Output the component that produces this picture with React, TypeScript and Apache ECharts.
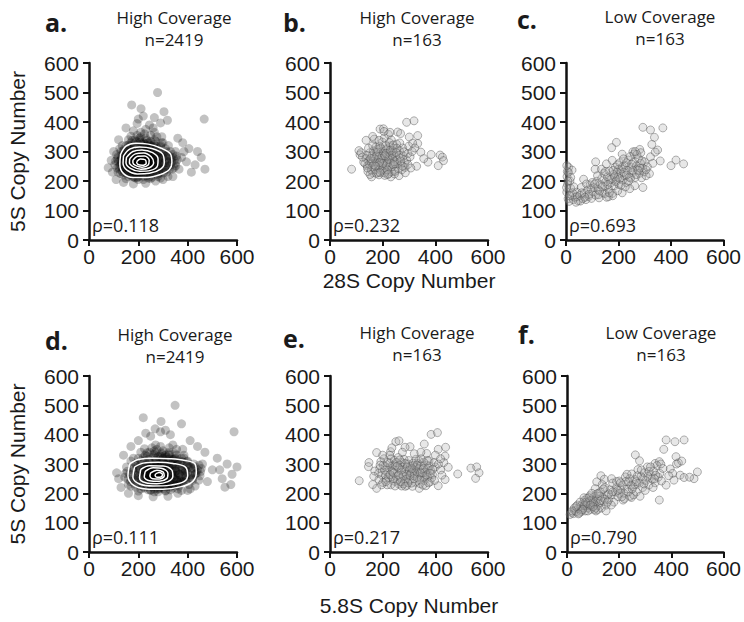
import React, { useEffect, useRef } from "react";
import * as echarts from "echarts";

// ---------- text data ----------
const panelLetters = ["a.", "b.", "c.", "d.", "e.", "f."];
const coverageTitles = ["High Coverage", "High Coverage", "Low Coverage", "High Coverage", "High Coverage", "Low Coverage"];
const sampleCounts = ["n=2419", "n=163", "n=163", "n=2419", "n=163", "n=163"];
const rhoLabels = ["ρ=0.118", "ρ=0.232", "ρ=0.693", "ρ=0.111", "ρ=0.217", "ρ=0.790"];
const yAxisTitle = "5S Copy Number";
const xAxisTitles = ["28S Copy Number", "5.8S Copy Number"];
const axisMin = 0;
const axisMax = 600;
const xTickStep = 200;
const yTickStep = 100;

// ---------- series values: [x, y] ----------
const panelA: number[][] = [
  [278,500],[173,458],[211,445],[304,435],[220,420],[467,410],[318,406],[290,397],[78,245],[470,240],[455,280],[440,300],[430,255],[415,230],[395,265],[405,310],[380,330],[360,345],[245,390],[195,395],[260,380],[230,375],[150,380],[180,370],[120,340],[100,300],[90,270],[95,230],[110,205],[140,195],[180,190],[230,192],[270,200],[300,205],[340,215],[365,240],[375,280],[385,300],[350,300],[200,410],[265,415],
  [215,262],[198,255],[232,270],[180,248],[250,280],[165,265],[240,240],[205,290],[225,230],[190,275],[260,258],[175,285],[210,245],[245,300],[155,250],[270,275],[185,232],[230,310],[200,268],[220,282],[168,240],[255,235],[140,262],[285,265],[195,300],[235,255],[178,270],[212,228],[262,295],[150,282],[208,312],[242,265],[188,258],[225,248],[172,300],[275,245],[160,230],[218,272],[198,238],[252,318],[135,245],[290,285],[182,315],[238,225],[205,255],[228,295],[165,288],[268,230],[145,270],[215,325],[192,222],[258,270],[178,242],[248,252],[130,285],[300,260],[222,305],[185,290],[235,282],[170,258],[280,300],[210,235],[195,285],[265,250],[155,300],[240,330],[200,215],[225,265],[160,275],[290,240],[128,255],[218,250],[250,290],[175,225],[208,275],[232,240],[188,305],[272,262],[145,235],[205,338],[262,315],[180,262],[238,292],[152,258],[300,280],[220,218],[196,248],[245,270],[170,312],[284,225],[138,300],[228,255],[190,230],[258,300],[120,265],[212,298],[242,245],[182,280],[268,285],[162,245],[232,318],[204,260],[248,228],[148,290],[310,270],[216,240],[176,295],[255,262],[198,325],[236,272],[166,222],[278,310],[142,250],[222,288],[192,265],[262,238],[132,275],[320,250],[210,350],[250,335],[186,340],[170,330],[290,320],[305,295],[315,230],[325,285],[335,265],[345,245],[118,230],[112,290],[125,310],[150,320],[270,335],[230,345],[160,215],[140,220],[200,205],[255,212],[280,215],[300,240],[310,310],[330,300],[340,280],[350,260],[125,240],[135,320],[275,350],[195,355],[225,360],[160,340],[250,355],[300,330],[355,285],[105,255],[115,275],[128,225],[320,215],[290,210],[240,210],[185,212],[150,208],[170,352],[210,365],[265,365],[295,350],[285,245],[270,295],[245,310],[200,232],[215,280],[235,262],[180,255],[225,275],[205,270],[190,245],[250,265],[220,258],[195,278],[240,285],[210,252],[230,248],[185,268],[260,275],[200,295],[175,250],[245,255],[215,300],[230,235],[165,258],[280,270],[205,242],[235,300],[190,290],[220,238],[255,248],[170,275],[225,325],[210,265],[240,268],[195,262],[205,280],[218,266],[230,260],[200,250],[212,258],[224,270],[190,256]
];
const panelAExtra: number[][] = [
  [122,248],[134,232],[146,296],[158,312],[171,218],[183,326],[196,212],[209,332],[221,214],[236,328],[249,216],[263,324],[276,222],[289,316],[302,228],[314,300],[326,240],[333,276],[318,262],[306,284],[296,252],[283,236],[271,318],[259,228],[246,322],[234,218],[221,330],[207,222],[194,318],[182,226],[169,306],[157,238],[144,248],[136,290],[128,270],[142,306],[153,226],[166,320],[179,214],[192,334],[204,226],[217,316],[229,226],[242,318],[254,238],[268,308],[281,250],[294,296],[307,262],[319,288],[331,254],[287,278],[274,292],[261,246],[248,302],[236,236],[223,298],[211,308],[198,222],[186,300],[173,234],[161,296],[149,244],[139,280],[152,270],[164,252],[176,278],[189,242],[201,282],[213,244],[226,290],[238,258],[251,276],[263,266],[276,284],[288,258],[300,290],[312,244],[324,268],[118,282],[130,300],[145,228],[160,322],[175,338],[190,210],[205,345],[220,205],[235,338],[250,208],[265,340],[280,228],[295,330],[310,238],[322,320],[340,290],[345,270],[338,240],[132,262],[148,274],[165,284],[182,264],[198,274],[214,288],[232,280],[248,244],[264,284],[280,262],[108,268],[114,244],[352,252],[358,272]
];

const panelB: number[][] = [
  [82,240],[291,399],[319,404],[190,376],[203,377],[257,366],[268,361],[222,358],[333,354],[137,338],[301,349],[333,327],[110,303],[114,289],[384,290],[418,288],[427,281],[431,269],[411,252],[372,264],[329,250],
  [163,228],[187,243],[142,251],[206,268],[231,214],[176,297],[154,263],[219,286],[248,239],[193,311],[137,276],[264,302],[181,257],[212,233],[229,319],[158,214],[271,257],[201,293],[144,232],[239,276],[186,221],[253,325],[168,281],[224,247],[196,262],[279,284],[151,296],[213,305],[234,231],[172,239],[262,218],[189,284],[147,268],[243,294],[208,219],[276,312],[161,249],[227,271],[199,332],[182,229],[256,259],[139,287],[218,262],[174,315],[291,271],[236,248],[165,302],[204,241],[249,282],[157,237],[285,246],[193,270],[226,295],[178,264],[245,224],[211,281],[133,259],[267,279],[188,318],[232,261],[152,222],[219,309],[199,251],[296,293],[171,274],[241,311],[183,298],[259,242],[207,227],[146,311],[228,284],[265,329],[194,236],[215,256],[238,302],[163,267],[283,262],[203,300],[176,226],[254,273],[223,225],[168,342],[198,285],[247,258],[142,244],[273,238],[211,319],[185,252],[233,339],[159,285],[299,318],[221,274],[190,229],[262,288],[149,257],[206,346],[244,266],[180,307],[281,299],[128,264],[217,238],[254,311],[195,277],[235,287],[166,255],[304,282],[213,293],[240,255],[177,285],[286,228],[200,259],[226,330],[155,276],[268,268],[188,263],[312,300],[247,233],[162,320],[229,304],[276,250],[209,286],[123,281],[251,296],[186,338],[296,256],[219,222],[173,250],[240,322],[314,328],[322,312],[345,298],[162,351],[228,365],[118,296],[356,276],[205,368],[307,244]
];

const panelC: number[][] = [
  [293,382],[322,373],[369,380],[337,348],[327,324],[349,305],[192,331],[174,313],[281,307],[255,299],[322,282],[299,265],[359,268],[419,271],[400,252],[448,258],[331,260],[214,291],[113,265],[111,240],[67,206],[293,178],[214,160],[162,147],[10,246],[23,237],
  [4,215],[6,188],[3,162],[8,140],[12,131],[5,232],[15,200],[18,175],[22,152],[28,137],[35,145],[41,162],[47,133],[53,151],[58,178],[64,140],[70,158],[76,137],[82,169],[87,148],[92,187],[97,141],[103,163],[108,178],[113,152],[117,199],[122,171],[126,143],[131,188],[136,209],[140,161],[144,226],[148,182],[151,197],[155,145],[158,214],[162,173],[166,234],[170,193],[173,206],[177,158],[181,222],[184,184],[188,247],[191,203],[195,231],[198,212],[202,188],[205,262],[209,226],[212,241],[216,203],[219,275],[223,218],[227,252],[230,195],[234,236],[238,271],[241,213],[245,283],[249,246],[253,228],[257,263],[260,292],[264,212],[268,251],[272,239],[276,277],[280,226],[284,260],[288,211],[292,244],[298,231],[305,218],[310,248],[318,225],[262,184],[243,174],[226,180],[197,167],[178,150],[147,158],[128,166],[95,175],[78,190],[60,160],[42,147],[30,180],[18,212],[9,230],[135,240],[154,258],[168,205],[185,215],[200,240],[215,248],[230,262],[246,210],[270,290],[285,296],[305,238],[120,218],[100,195],[88,155],[72,145],[55,132],[38,128],[25,160],[14,150],[2,178],[160,188],[176,270],[190,198],[205,208],[220,230],[238,200],[255,236],[268,222],[282,244],[140,180],[124,154],[110,190],[150,232],[165,160],[180,236],[196,255],[210,186],[230,220],[250,257],[264,300],[276,236],[3,252],[7,200],[290,268],[340,298]
];

const panelD: number[][] = [
  [349,500],[220,458],[292,445],[375,437],[588,410],[625,240],[551,221],[268,420],[290,410],[112,270],[600,290],[580,265],[560,300],[540,250],[520,320],[500,280],[480,240],[470,340],[440,360],[410,380],[330,400],[250,395],[200,380],[170,360],[140,330],[120,250],[130,220],[160,200],[200,192],[260,188],[320,190],[360,200],[400,210],[430,225],[460,300],[575,230],[530,280],[310,415],[230,405],
  [280,262],[262,255],[300,270],[240,248],[320,280],[225,265],[305,240],[270,290],[290,230],[250,275],[335,258],[235,285],[275,245],[315,300],[210,250],[350,275],[245,232],[295,310],[265,268],[285,282],[228,240],[330,235],[195,262],[365,265],[255,300],[305,255],[238,270],[278,228],[340,295],[205,282],[270,312],[310,265],[250,258],[290,248],[232,300],[355,245],[215,230],[282,272],[262,238],[325,318],[185,245],[375,285],[242,315],[305,225],[268,255],[295,295],[222,288],[345,230],[200,270],[280,325],[255,222],[335,270],[238,242],[320,252],[178,285],[390,260],[288,305],[248,290],[305,282],[228,258],[360,300],[272,235],[258,285],[345,250],[210,300],[310,330],[265,215],[292,265],[218,275],[375,240],[175,255],[285,250],[325,290],[235,225],[272,275],[300,240],[248,305],[350,262],[198,235],[268,338],[340,315],[240,262],[305,292],[205,258],[390,280],[285,218],[262,248],[318,270],[225,312],[365,225],[188,300],[295,255],[252,230],[335,300],[165,265],[278,298],[312,245],[242,280],[348,285],[215,245],[300,318],[270,260],[322,228],[198,290],[400,270],[280,240],[232,295],[330,262],[262,325],[305,272],[222,222],[358,310],[192,250],[290,288],[255,265],[340,238],[180,275],[415,250],[275,350],[325,335],[245,340],[228,330],[375,320],[395,295],[405,230],[420,285],[430,265],[445,245],[160,230],[152,290],[170,310],[200,320],[350,335],[300,345],[210,215],[190,220],[265,205],[330,212],[360,215],[385,240],[400,310],[425,300],[440,280],[450,260],[168,240],[180,320],[355,350],[255,355],[290,360],[210,340],[325,355],[385,330],[455,285],[145,255],[155,275],[170,225],[410,215],[375,210],[310,210],[240,212],[200,208],[225,352],[270,365],[340,365],[380,350],[365,245],[350,295],[320,310],[260,232],[280,280],[300,262],[240,255],[290,275],[270,270],[250,245],[325,265],[285,258],[260,278],[310,285],[275,252],[295,248],[245,268],[340,275],[265,295],[230,250],[315,255],[280,300],[300,235],[220,258],[360,270],[270,242],[305,300],[250,290],[290,238],[330,248],[225,275],[295,325],[275,265],[310,268],[255,262],[270,280],[285,266],[300,260],[265,250],[278,258],[292,270],[250,256]
];
const panelDExtra: number[][] = [
  [172,248],[185,232],[198,296],[211,312],[224,218],[237,326],[250,212],[263,332],[276,214],[290,328],[303,216],[316,324],[329,222],[342,316],[355,228],[368,300],[381,240],[394,276],[410,262],[420,250],[405,290],[392,244],[378,308],[365,232],[352,320],[339,218],[326,330],[313,222],[300,318],[287,226],[274,306],[261,238],[248,248],[238,290],[228,270],[244,306],[257,226],[270,320],[283,214],[296,334],[309,226],[322,316],[335,226],[348,318],[361,238],[374,308],[387,250],[400,296],[413,262],[425,288],[380,278],[367,292],[354,246],[341,302],[328,236],[315,298],[302,308],[289,222],[276,300],[263,234],[250,296],[237,244],[226,280],[240,270],[254,252],[268,278],[282,242],[296,282],[310,244],[324,290],[338,258],[352,276],[366,266],[380,284],[394,258],[408,290],[420,244],[432,268],[178,282],[190,300],[205,228],[220,322],[235,338],[250,210],[265,345],[280,205],[295,338],[310,208],[325,340],[340,228],[355,330],[370,238],[385,320],[398,308],[430,290],[438,270],[192,262],[208,274],[226,284],[244,264],[262,274],[280,288],[300,280],[318,244],[336,284],[354,262],[372,256],[388,270],[148,268],[158,248],[452,274],[446,296]
];

const panelE: number[][] = [
  [384,401],[408,407],[250,376],[262,379],[358,368],[304,359],[285,357],[177,339],[230,342],[411,350],[439,357],[367,336],[437,327],[449,289],[148,305],[146,291],[485,266],[535,286],[557,290],[566,270],[553,251],[111,243],[437,247],[177,217],[339,217],[411,226],
  [198,262],[223,287],[246,241],[271,305],[294,258],[318,279],[342,233],[367,296],[389,264],[205,318],[231,229],[256,272],[281,316],[303,245],[327,290],[352,257],[376,311],[213,248],[238,296],[262,231],[287,283],[311,267],[334,302],[358,244],[382,278],[189,285],[219,271],[244,313],[268,252],[292,227],[315,296],[340,265],[364,226],[400,290],[201,237],[226,303],[251,258],[276,289],[299,312],[324,238],[348,281],[371,256],[395,305],[184,268],[209,292],[234,257],[259,322],[283,240],[308,271],[332,254],[356,306],[380,239],[420,280],[217,229],[242,280],[266,296],[290,266],[313,224],[337,311],[361,272],[386,252],[193,308],[222,254],[247,293],[272,225],[296,300],[320,259],[345,294],[369,281],[412,300],[207,279],[232,318],[256,245],[280,271],[305,292],[329,273],[353,228],[377,293],[425,262],[186,247],[211,262],[236,274],[261,285],[285,302],[310,235],[335,283],[359,258],[397,244],[227,330],[252,305],[277,260],[301,278],[326,316],[350,270],[374,236],[202,296],[240,250],[265,314],[289,248],[316,303],[340,247],[366,263],[390,282],[218,305],[247,225],[272,280],[296,236],[321,268],[346,318],[170,276],[196,229],[228,264],[255,292],[279,232],[303,262],[330,296],[355,285],[381,268],[432,305],[212,240],[241,270],[268,240],[293,290],[318,250],[343,270],[370,312],[166,258],[190,296],[260,262],[286,224],[311,284],[162,230],[400,330],[420,318],[235,355],[320,335],[345,340],[275,340],[200,330]
];

const panelF: number[][] = [
  [380,382],[414,376],[449,382],[371,350],[418,325],[427,304],[262,331],[278,311],[338,302],[354,308],[396,283],[405,268],[434,262],[449,254],[500,273],[487,250],[380,228],[354,177],[215,177],[247,186],[130,260],[143,248],[171,250],[114,239],[108,216],
  [12,128],[18,135],[25,131],[30,142],[36,137],[42,148],[47,133],[52,156],[56,143],[60,165],[63,151],[67,176],[70,140],[73,160],[76,183],[79,150],[82,170],[85,157],[88,192],[90,145],[93,166],[96,178],[99,153],[102,187],[105,162],[108,172],[111,140],[114,198],[117,158],[120,180],[124,167],[128,205],[132,150],[136,186],[140,172],[145,220],[150,160],[155,193],[160,178],[165,212],[170,195],[175,235],[180,170],[185,205],[190,220],[195,189],[200,242],[206,214],[212,228],[218,200],[224,256],[230,215],[236,239],[242,190],[248,266],[254,223],[260,247],[266,205],[272,281],[278,235],[284,258],[290,220],[296,270],[302,244],[308,290],[314,228],[320,262],[326,249],[332,275],[338,236],[345,295],[350,255],[356,268],[362,242],[368,285],[300,210],[280,190],[260,230],[240,250],[220,182],[190,240],[160,198],[125,190],[95,200],[65,185],[40,160],[28,150],[50,170],[80,140],[110,150],[135,230],[150,140],[170,160],[200,200],[230,265],[255,195],[285,280],[310,258],[330,220],[360,300],[390,260],[410,245],[420,300],[440,310],[470,255],[55,138],[66,158],[78,165],[88,175],[100,168],[118,145],[130,175],[145,180],[100,155],[72,170],[84,185],[60,145],[44,130],[35,155],[20,140],[90,160],[105,145],[120,200],[140,215],[210,188],[235,205],[265,240],[290,250],[315,275],[340,262],[270,260],[245,228],[225,240],[195,210],[175,205],[155,170],[205,236],[250,215],[295,232],[320,290],[335,250]
];

// density contours (closed loops) for panels a and d
const contoursA: number[][][] = [
  [[128,290],[150,318],[190,328],[240,325],[290,312],[330,292],[336,262],[325,238],[290,222],[235,212],[180,212],[140,225],[125,258],[128,290]],
  [[140,285],[165,308],[205,315],[255,310],[298,292],[305,262],[290,240],[245,226],[195,224],[155,236],[138,260],[140,285]],
  [[152,280],[178,300],[215,305],[258,296],[280,275],[278,252],[250,236],[205,233],[168,243],[150,262],[152,280]],
  [[165,275],[188,292],[222,295],[252,282],[262,262],[245,245],[210,240],[180,248],[164,262],[165,275]],
  [[178,270],[198,284],[225,285],[244,270],[240,254],[215,247],[190,252],[178,262],[178,270]],
  [[193,265],[208,275],[228,272],[232,260],[216,253],[198,256],[193,265]]
];
const contoursD: number[][][] = [
  [[165,300],[200,315],[260,320],[330,318],[390,312],[430,300],[435,270],[420,240],[370,222],[300,214],[230,215],[180,228],[158,260],[165,300]],
  [[185,290],[220,303],[280,306],[340,302],[390,290],[400,262],[385,240],[330,228],[260,225],[205,232],[178,255],[185,290]],
  [[210,282],[245,294],[300,293],[335,280],[340,258],[320,240],[275,233],[230,236],[205,252],[210,282]],
  [[228,275],[260,287],[300,284],[320,268],[315,250],[285,241],[245,243],[224,256],[228,275]],
  [[250,270],[275,279],[300,273],[305,259],[285,249],[258,250],[247,259],[250,270]],
  [[270,266],[285,271],[298,264],[292,256],[276,255],[268,261],[270,266]]
];

const panelData = [[...panelA, ...panelAExtra], panelB, panelC, [...panelD, ...panelDExtra], panelE, panelF];
const panelContours: (number[][][] | null)[] = [contoursA, null, null, contoursD, null, null];
const densePanels = [true, false, false, true, false, false];

// ---------- layout ----------
const grids = [
  { left: 89, top: 63, width: 148, height: 177 },
  { left: 330, top: 63, width: 158, height: 177 },
  { left: 566, top: 63, width: 159, height: 177 },
  { left: 89, top: 376, width: 148, height: 176 },
  { left: 330, top: 376, width: 158, height: 176 },
  { left: 567, top: 376, width: 158, height: 176 },
];
const letterPos = [[45, 22], [283, 22], [517, 19], [45, 340], [283, 338], [518, 334]];
const titleCenter = [[174, 17], [417, 17], [660, 16], [175, 334], [417, 332], [661, 332]];
const nCenter = [[174, 39], [417, 39], [660, 38], [175, 356], [417, 354], [661, 354]];
const rhoY = [225, 225, 225, 537, 537, 537];

const AXIS_COLOR = "#111";
const TEXT_COLOR = "#1a1a1a";
const SANS = "'Liberation Sans', Arial, sans-serif";
const CAL = "'Open Sans', 'Noto Sans', sans-serif";

function txt(x: number, y: number, text: string, font: string, align: string) {
  return {
    type: "text",
    x,
    y,
    style: {
      text,
      font,
      fill: TEXT_COLOR,
      textAlign: align,
      align,
      textVerticalAlign: "middle",
      verticalAlign: "middle",
    },
  };
}

export default function App() {
  const ref = useRef<HTMLDivElement>(null);

  useEffect(() => {
    if (!ref.current) return;
    const chart = echarts.init(ref.current, undefined, { renderer: "svg" });

    const xAxis: any[] = [];
    const yAxis: any[] = [];
    const series: any[] = [];
    const graphic: any[] = [];

    grids.forEach((g, i) => {
      const row = i < 3 ? 0 : 1;
      xAxis.push({
        type: "value",
        gridIndex: i,
        min: axisMin,
        max: axisMax,
        interval: xTickStep,
        name: i === 1 || i === 4 ? xAxisTitles[row] : "",
        nameLocation: "middle",
        nameGap: row === 0 ? 30 : 43,
        nameTextStyle: { fontSize: 21, fontFamily: SANS, color: TEXT_COLOR },
        axisLine: { show: true, onZero: false, lineStyle: { color: AXIS_COLOR, width: 2.5 } },
        axisTick: { show: true, length: 6, lineStyle: { color: AXIS_COLOR, width: 2 } },
        axisLabel: { fontSize: 21, fontFamily: SANS, color: TEXT_COLOR, margin: 6 },
        splitLine: { show: false },
      });
      yAxis.push({
        type: "value",
        gridIndex: i,
        min: axisMin,
        max: axisMax,
        interval: yTickStep,
        name: i === 0 || i === 3 ? yAxisTitle : "",
        nameLocation: "middle",
        nameGap: 61,
        nameTextStyle: { fontSize: 21, fontFamily: SANS, color: TEXT_COLOR },
        axisLine: { show: true, onZero: false, lineStyle: { color: AXIS_COLOR, width: 2.5 } },
        axisTick: { show: true, length: 6, lineStyle: { color: AXIS_COLOR, width: 2 } },
        axisLabel: { fontSize: 21, fontFamily: SANS, color: TEXT_COLOR, margin: 10 },
        splitLine: { show: false },
      });

      series.push({
        type: "scatter",
        xAxisIndex: i,
        yAxisIndex: i,
        data: panelData[i],
        symbol: "circle",
        symbolSize: densePanels[i] ? 9 : 8,
        z: 2,
        itemStyle: densePanels[i]
          ? { color: "rgba(0,0,0,0.3)", borderWidth: 0 }
          : { color: "rgba(170,170,170,0.35)", borderColor: "rgba(80,80,80,0.55)", borderWidth: 1 },
      });

      const cs = panelContours[i];
      if (cs) {
        cs.forEach((loop) => {
          series.push({
            type: "line",
            xAxisIndex: i,
            yAxisIndex: i,
            data: loop,
            symbol: "none",
            smooth: 0.35,
            z: 5,
            lineStyle: { color: "#ffffff", width: 1.5 },
          });
        });
      }

      graphic.push(txt(letterPos[i][0], letterPos[i][1], panelLetters[i], `bold 25px ${CAL}`, "left"));
      graphic.push(txt(titleCenter[i][0], titleCenter[i][1], coverageTitles[i], `17px ${CAL}`, "center"));
      graphic.push(txt(nCenter[i][0], nCenter[i][1], sampleCounts[i], `17px ${CAL}`, "center"));
      graphic.push(txt(g.left + 3, rhoY[i], rhoLabels[i], `18px ${CAL}`, "left"));
    });

    chart.setOption({
      animation: false,
      backgroundColor: "#ffffff",
      grid: grids.map((g) => ({ ...g, containLabel: false })),
      xAxis,
      yAxis,
      series,
      graphic,
    });

    return () => chart.dispose();
  }, []);

  return (
    <div
      ref={ref}
      style={{ position: "fixed", left: 0, top: 0, width: 744, height: 622, background: "#fff" }}
    />
  );
}
